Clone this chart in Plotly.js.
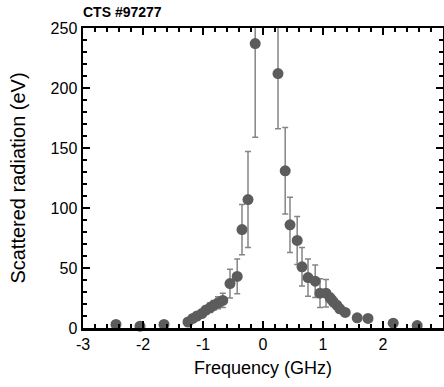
<!DOCTYPE html>
<html>
<head>
<meta charset="utf-8">
<script src="https://cdn.plot.ly/plotly-3.0.1.min.js"></script>
<style>html,body{margin:0;padding:0;background:#fff;}#chart{width:444px;height:387px;}</style>
</head>
<body>
<div id="chart"></div>
<script>
// Frequency (GHz)
const freq = [-2.45, -2.05, -1.65, -1.43, -1.25, -1.17, -1.10, -1.02, -0.95, -0.88, -0.82, -0.75, -0.67,
  -0.55, -0.43, -0.35, -0.25, -0.13, 0.25, 0.37, 0.45, 0.57, 0.65, 0.75, 0.87, 0.95, 1.05,
  1.12, 1.17, 1.23, 1.28, 1.37, 1.57, 1.75, 2.17, 2.57];
// Scattered radiation (eV)
const radiation = [3, 1.5, 3, -2.5, 5, 8, 10, 12, 15, 17, 19, 21, 23,
  37, 43, 82, 107, 237, 212, 131, 86, 73, 51, 42, 39, 29, 29,
  25, 22, 19, 16, 13, 8.5, 8, 4, 2];
// Error (eV)
const radErr = [0, 0, 0, 0, 2, 2, 3, 3, 3, 4, 4, 5, 6,
  12, 14.5, 21, 40, 78, 46, 36, 23, 20, 16, 15.5, 13.5, 12, 11.5,
  4, 4, 3, 3, 2, 0, 0, 0, 0];

const xTicks = [-3, -2, -1, 0, 1, 2, 3];
const xTickText = ['-3', '-2', '-1', '0', '1', '2', '3'];
const yTicks = [0, 50, 100, 150, 200, 250];
const yTickText = ['0', '50', '100', '150', '200', '250'];

const font = 'Liberation Sans, Arial, sans-serif';

const traces = [
  {
    x: freq, y: radiation, type: 'scatter', mode: 'markers',
    marker: {color: 'rgba(0,0,0,0)', size: 11},
    error_y: {type: 'data', array: radErr, visible: true, color: '#858585', thickness: 1.5, width: 3},
    cliponaxis: true, hoverinfo: 'skip', showlegend: false
  },
  {
    x: freq, y: radiation, type: 'scatter', mode: 'markers',
    marker: {color: '#5c5c5c', size: 11},
    cliponaxis: false, showlegend: false
  }
];

const layout = {
  width: 444, height: 387,
  margin: {l: 83, r: 1, t: 28, b: 59},
  paper_bgcolor: '#fff', plot_bgcolor: '#fff',
  font: {family: font, color: '#000'},
  title: {text: '<b>CTS #97277</b>', font: {family: font, size: 14, color: '#000'},
          x: 83/444, xanchor: 'left', y: 1 - 12/387, yanchor: 'middle', xref: 'container', yref: 'container'},
  xaxis: {
    range: [-3, 3], tickmode: 'array', tickvals: xTicks, ticktext: xTickText,
    showgrid: false, zeroline: false, showline: true, linecolor: '#000', linewidth: 2.5, mirror: 'ticks',
    ticks: 'inside', ticklen: 7, tickwidth: 2, tickcolor: '#000',
    minor: {tickmode: 'linear', tick0: 0, dtick: 0.2, ticks: 'inside', ticklen: 4, tickwidth: 1.5, tickcolor: '#000', showgrid: false},
    tickfont: {size: 16, family: font, color: '#000'},
    title: {text: 'Frequency (GHz)', font: {size: 18, family: font, color: '#000'}, standoff: 10}
  },
  yaxis: {
    range: [0, 250], tickmode: 'array', tickvals: yTicks, ticktext: yTickText,
    showgrid: false, zeroline: false, showline: true, linecolor: '#000', linewidth: 2.5, mirror: 'ticks',
    ticks: 'inside', ticklen: 7, tickwidth: 2, tickcolor: '#000',
    minor: {tickmode: 'linear', tick0: 0, dtick: 10, ticks: 'inside', ticklen: 4, tickwidth: 1.5, tickcolor: '#000', showgrid: false},
    tickfont: {size: 16, family: font, color: '#000'},
    title: {text: 'Scattered radiation (eV)', font: {size: 20, family: font, color: '#000'}, standoff: 20}
  }
};

Plotly.newPlot('chart', traces, layout, {displayModeBar: false, staticPlot: true});
</script>
</body>
</html>
